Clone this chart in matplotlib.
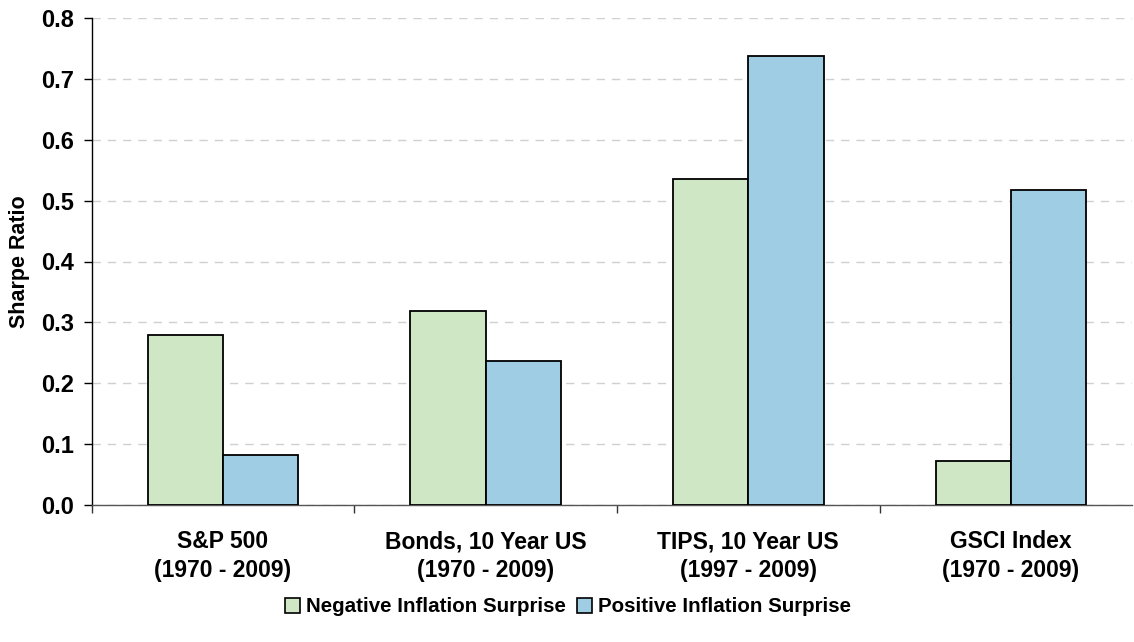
import matplotlib
matplotlib.use("Agg")
import matplotlib.pyplot as plt
from matplotlib.patches import Patch
import numpy as np

plt.rcParams['font.family'] = ['Liberation Sans', 'DejaVu Sans']

categories = ["S&P 500\n(1970 - 2009)", "Bonds, 10 Year US\n(1970 - 2009)",
              "TIPS, 10 Year US\n(1997 - 2009)", "GSCI Index\n(1970 - 2009)"]
series_names = ["Negative Inflation Surprise", "Positive Inflation Surprise"]
negative = [0.280, 0.318, 0.535, 0.073]
positive = [0.082, 0.237, 0.737, 0.517]
yticks = [0.0, 0.1, 0.2, 0.3, 0.4, 0.5, 0.6, 0.7, 0.8]

green = "#D0E7C5"
blue = "#9ECDE4"

fig = plt.figure(figsize=(11.34, 6.42), dpi=100)
ax = fig.add_axes([91.7/1134, 1-505/642, (1131.7-91.7)/1134, (505-18)/642])

x = np.arange(len(categories))
w = 0.287
ax.bar(x - w/2, negative, width=w, color=green, edgecolor="black", linewidth=1.3, zorder=3)
ax.bar(x + w/2, positive, width=w, color=blue, edgecolor="black", linewidth=1.3, zorder=3)

ax.set_xlim(-0.5, 3.46)
ax.set_ylim(0, 0.8)
ax.set_yticks(yticks)
ax.set_yticklabels([f"{t:.1f}" for t in yticks], fontsize=17, fontweight="bold")
ax.yaxis.grid(True, color="#D0D0D0", linestyle=(0, (6, 5)), linewidth=1.0, zorder=0)
ax.set_axisbelow(True)

ax.set_xticks(x)
ax.set_xticklabels(categories, fontsize=16.5, fontweight="bold", linespacing=1.35)
ax.set_xticks(np.arange(-0.5, 3.5, 1.0), minor=True)
ax.tick_params(axis="x", which="major", length=0, pad=18)
ax.tick_params(axis="x", which="minor", length=6, width=1, direction="out", color="#333333")
ax.tick_params(axis="y", length=6, width=1, direction="out", pad=7)

for s in ["top", "right"]:
    ax.spines[s].set_visible(False)
ax.spines["left"].set_linewidth(1.0)
ax.spines["bottom"].set_linewidth(1.0)
ax.spines["bottom"].set_color("#555555")

ax.set_ylabel("Sharpe Ratio", fontsize=15.5, fontweight="bold")
ax.yaxis.set_label_coords(-0.0595, 0.5)

handles = [Patch(facecolor=green, edgecolor="black", linewidth=1.2),
           Patch(facecolor=blue, edgecolor="black", linewidth=1.2)]
fig.legend(handles, series_names, loc="center", bbox_to_anchor=(568/1134, 1-607/642),
           ncol=2, frameon=False, prop={"weight": "bold", "size": 14.8},
           handlelength=0.75, handleheight=0.75, handletextpad=0.3, columnspacing=0.5)

fig.savefig("out.png", dpi=100)
